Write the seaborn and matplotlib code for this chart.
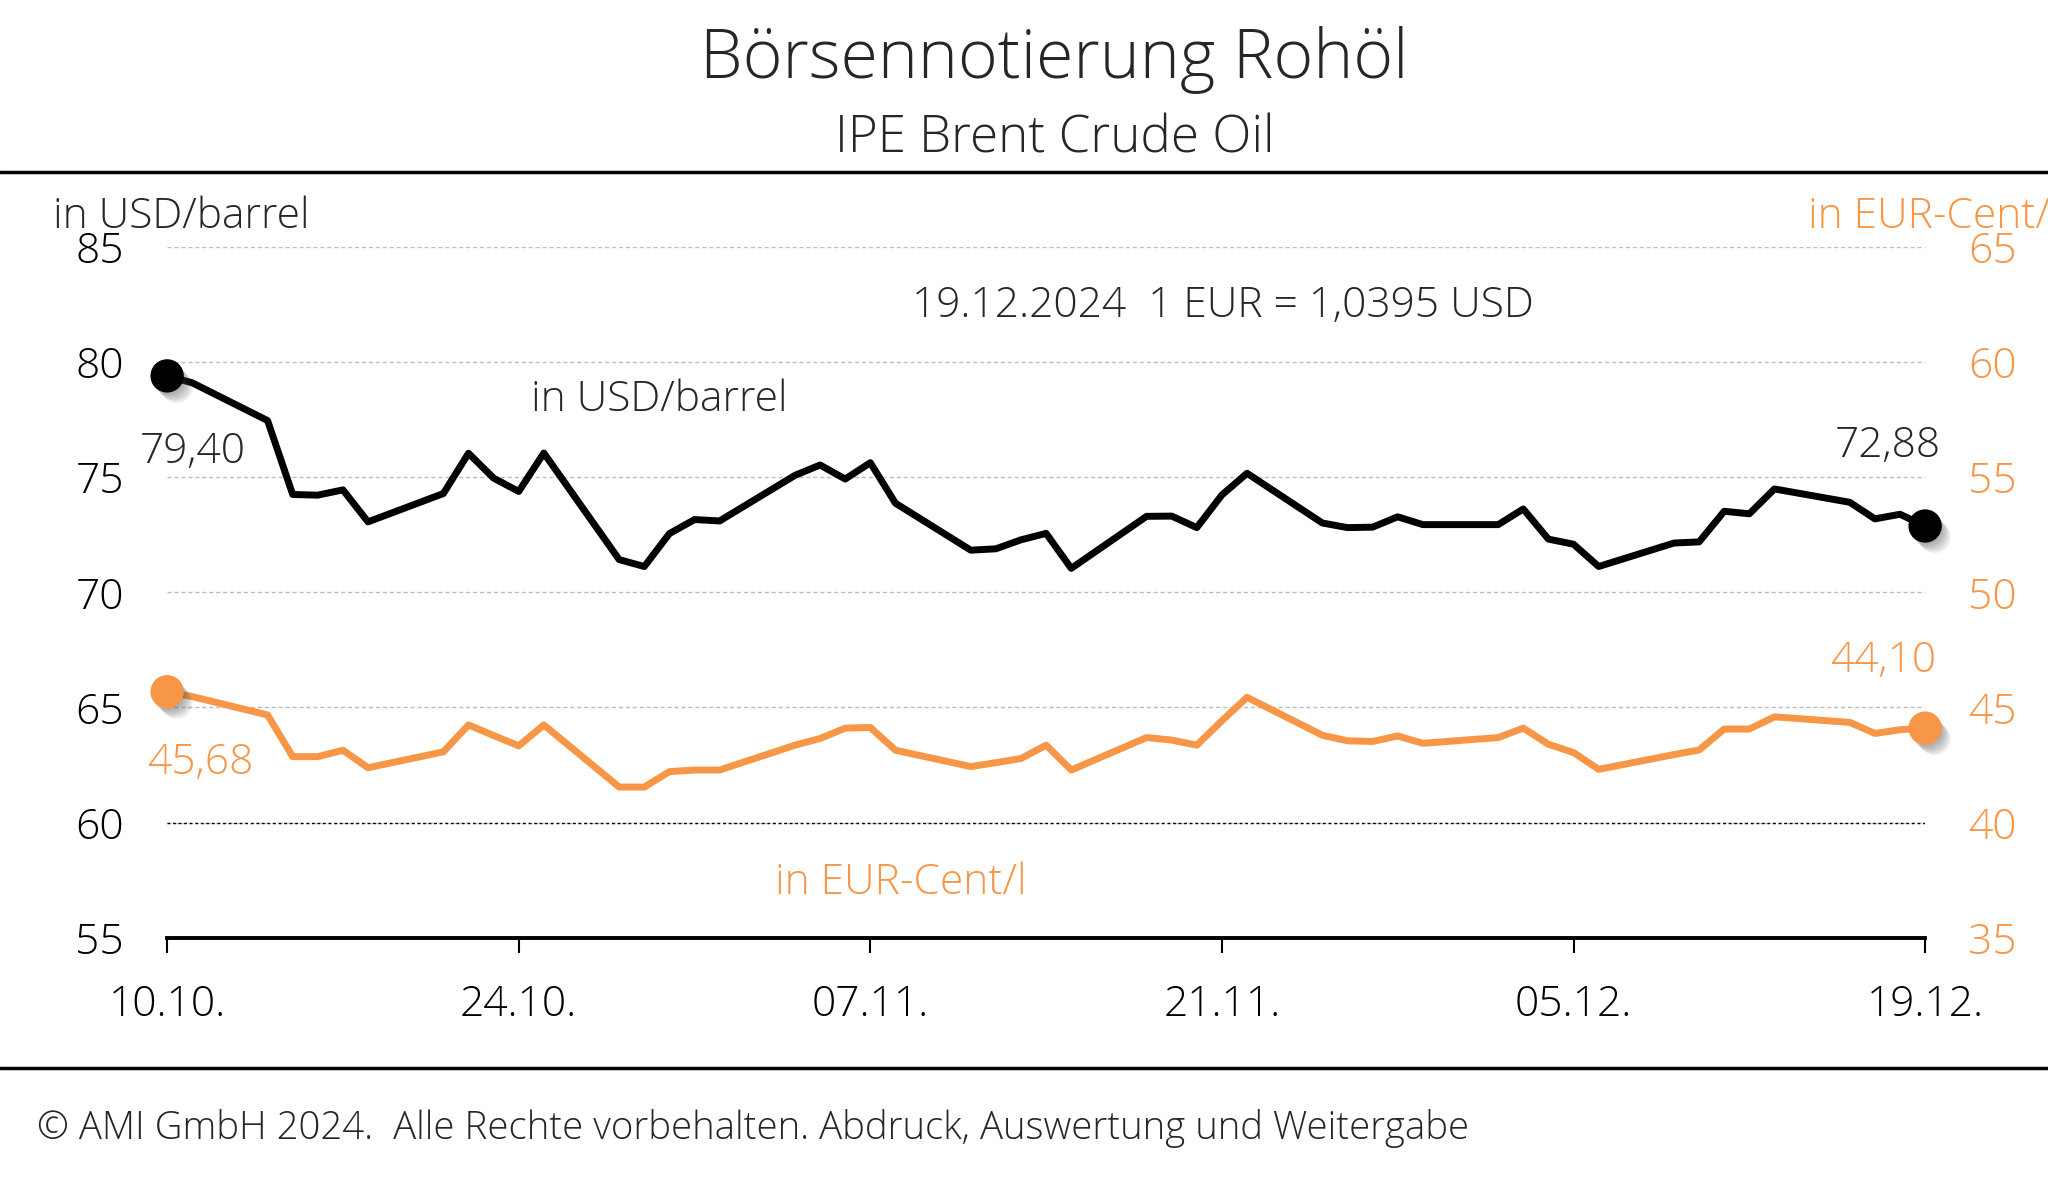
import pandas as pd
import seaborn as sns
import matplotlib.pyplot as plt
import matplotlib.dates as mdates
import matplotlib.patheffects as pe
from matplotlib.lines import Line2D

# --- DATEN ---
dates = ["2024-10-10", "2024-10-11", "2024-10-14", "2024-10-15", "2024-10-16", "2024-10-17",
         "2024-10-18", "2024-10-21", "2024-10-22", "2024-10-23", "2024-10-24", "2024-10-25",
         "2024-10-28", "2024-10-29", "2024-10-30", "2024-10-31", "2024-11-01", "2024-11-04",
         "2024-11-05", "2024-11-06", "2024-11-07", "2024-11-08", "2024-11-11", "2024-11-12",
         "2024-11-13", "2024-11-14", "2024-11-15", "2024-11-18", "2024-11-19", "2024-11-20",
         "2024-11-21", "2024-11-22", "2024-11-25", "2024-11-26", "2024-11-27", "2024-11-28",
         "2024-11-29", "2024-12-02", "2024-12-03", "2024-12-04", "2024-12-05", "2024-12-06",
         "2024-12-09", "2024-12-10", "2024-12-11", "2024-12-12", "2024-12-13", "2024-12-16",
         "2024-12-17", "2024-12-18", "2024-12-19"]

usd_barrel = [79.40, 79.10, 77.46, 74.25, 74.22, 74.45, 73.06, 74.29, 76.04, 74.96, 74.38, 76.05,
              71.42, 71.12, 72.55, 73.16, 73.10, 75.08, 75.53, 74.92, 75.63, 73.87, 71.83, 71.89,
              72.28, 72.56, 71.04, 73.30, 73.31, 72.81, 74.23, 75.17, 73.01, 72.81, 72.83, 73.28,
              72.94, 72.94, 73.62, 72.31, 72.09, 71.12, 72.14, 72.19, 73.52, 73.41, 74.49, 73.91,
              73.19, 73.39, 72.88]

eur_cent_l = [45.68, 45.47, 44.67, 42.86, 42.86, 43.14, 42.38, 43.07, 44.24, 43.78, 43.33, 44.24,
              41.54, 41.54, 42.21, 42.28, 42.28, 43.36, 43.65, 44.10, 44.13, 43.14, 42.43, 42.60,
              42.78, 43.36, 42.28, 43.69, 43.58, 43.36, 44.42, 45.44, 43.79, 43.55, 43.52, 43.76,
              43.44, 43.69, 44.10, 43.40, 43.04, 42.31, 42.95, 43.15, 44.06, 44.06, 44.59, 44.35,
              43.87, 44.03, 44.10]

tick_dates = ["2024-10-10", "2024-10-24", "2024-11-07", "2024-11-21", "2024-12-05", "2024-12-19"]
usd_ticks = [55, 60, 65, 70, 75, 80, 85]
eur_ticks = [35, 40, 45, 50, 55, 60, 65]

ORANGE = '#F79646'
FS = 30.6

df = pd.DataFrame({'Datum': pd.to_datetime(dates), 'USD': usd_barrel, 'EUR': eur_cent_l})

# --- STIL ---
sns.set_theme(style="white")
plt.rcParams['font.family'] = ['Open Sans', 'DejaVu Sans']
plt.rcParams['font.weight'] = 'light'

fig = plt.figure(figsize=(20.48, 11.99), dpi=100)
ax = fig.add_axes([0.0816, 0.218, 0.8584, 0.576])
ax2 = ax.twinx()

sns.lineplot(data=df, x='Datum', y='USD', ax=ax, color='black', linewidth=5)
sns.lineplot(data=df, x='Datum', y='EUR', ax=ax2, color=ORANGE, linewidth=5)

# Endpunkte mit weichem Schatten
shadow = [pe.SimplePatchShadow(offset=(o, -o - 1), shadow_rgbFace='#444444', alpha=0.07)
          for o in range(1, 8)] + [pe.Normal()]
ends = df.iloc[[0, -1]]
ax.plot(ends['Datum'], ends['USD'], 'o', ms=23, color='black', path_effects=shadow,
        zorder=5, clip_on=False)
ax2.plot(ends['Datum'], ends['EUR'], 'o', ms=23, color=ORANGE, path_effects=shadow,
         zorder=5, clip_on=False)

# Achsen
ax.set_xlim(df['Datum'].iloc[0], df['Datum'].iloc[-1])
ax.set_ylim(55, 85)
ax2.set_ylim(35, 65)
ax.set_yticks(usd_ticks)
ax2.set_yticks(eur_ticks)
ax.set_xticks(pd.to_datetime(tick_dates))
ax.xaxis.set_major_formatter(mdates.DateFormatter('%d.%m.'))
ax.set_xlabel('')
ax.set_ylabel('')
ax2.set_ylabel('')

for a in (ax, ax2):
    for s in a.spines.values():
        s.set_visible(False)
ax.spines['bottom'].set_visible(True)
ax.spines['bottom'].set_color('black')
ax.spines['bottom'].set_linewidth(2.8)

ax.tick_params(axis='x', length=11, width=1.5, color='black', direction='out',
               pad=22, labelsize=FS, labelcolor='black', bottom=True)
ax.tick_params(axis='y', length=0, pad=31, labelsize=FS, labelcolor='black')
ax2.tick_params(axis='y', length=0, pad=31, labelsize=FS, labelcolor=ORANGE)

ax.yaxis.grid(True, color='#bdbdbd', linestyle=(0, (3, 2)), linewidth=1)
ax.xaxis.grid(False)
ax2.grid(False)
ax.axhline(60, color='black', linestyle=(0, (2, 2)), linewidth=1, zorder=1)

# Beschriftungen
fig.text(0.5147, 0.950, 'Börsennotierung Rohöl', ha='center', va='center', fontsize=49)
fig.text(0.5150, 0.884, 'IPE Brent Crude Oil', ha='center', va='center', fontsize=36.8)
fig.text(0.0261, 0.819, 'in USD/barrel', ha='left', va='center', fontsize=FS)
fig.text(0.8827, 0.819, 'in EUR-Cent/l', ha='left', va='center', fontsize=FS, color=ORANGE)
fig.text(0.5973, 0.745, '19.12.2024  1 EUR = 1,0395 USD', ha='center', va='center', fontsize=FS)
fig.text(0.3217, 0.6665, 'in USD/barrel', ha='center', va='center', fontsize=FS)
fig.text(0.440, 0.2635, 'in EUR-Cent/l', ha='center', va='center', fontsize=FS, color=ORANGE)
fig.text(0.0941, 0.623, '79,40', ha='center', va='center', fontsize=FS)
fig.text(0.9219, 0.6283, '72,88', ha='center', va='center', fontsize=FS)
fig.text(0.0976, 0.3635, '45,68', ha='center', va='center', fontsize=FS, color=ORANGE)
fig.text(0.9196, 0.4485, '44,10', ha='center', va='center', fontsize=FS, color=ORANGE)
fig.text(0.0179, 0.0585, '© AMI GmbH 2024.  Alle Rechte vorbehalten. Abdruck, Auswertung und Weitergabe',
         ha='left', va='center', fontsize=27.6)

# Trennlinien
fig.add_artist(Line2D([0, 1], [0.8566, 0.8566], transform=fig.transFigure, color='black', linewidth=2.5))
fig.add_artist(Line2D([0, 1], [0.1093, 0.1093], transform=fig.transFigure, color='black', linewidth=2.5))

fig.savefig('out.png', dpi=100)
